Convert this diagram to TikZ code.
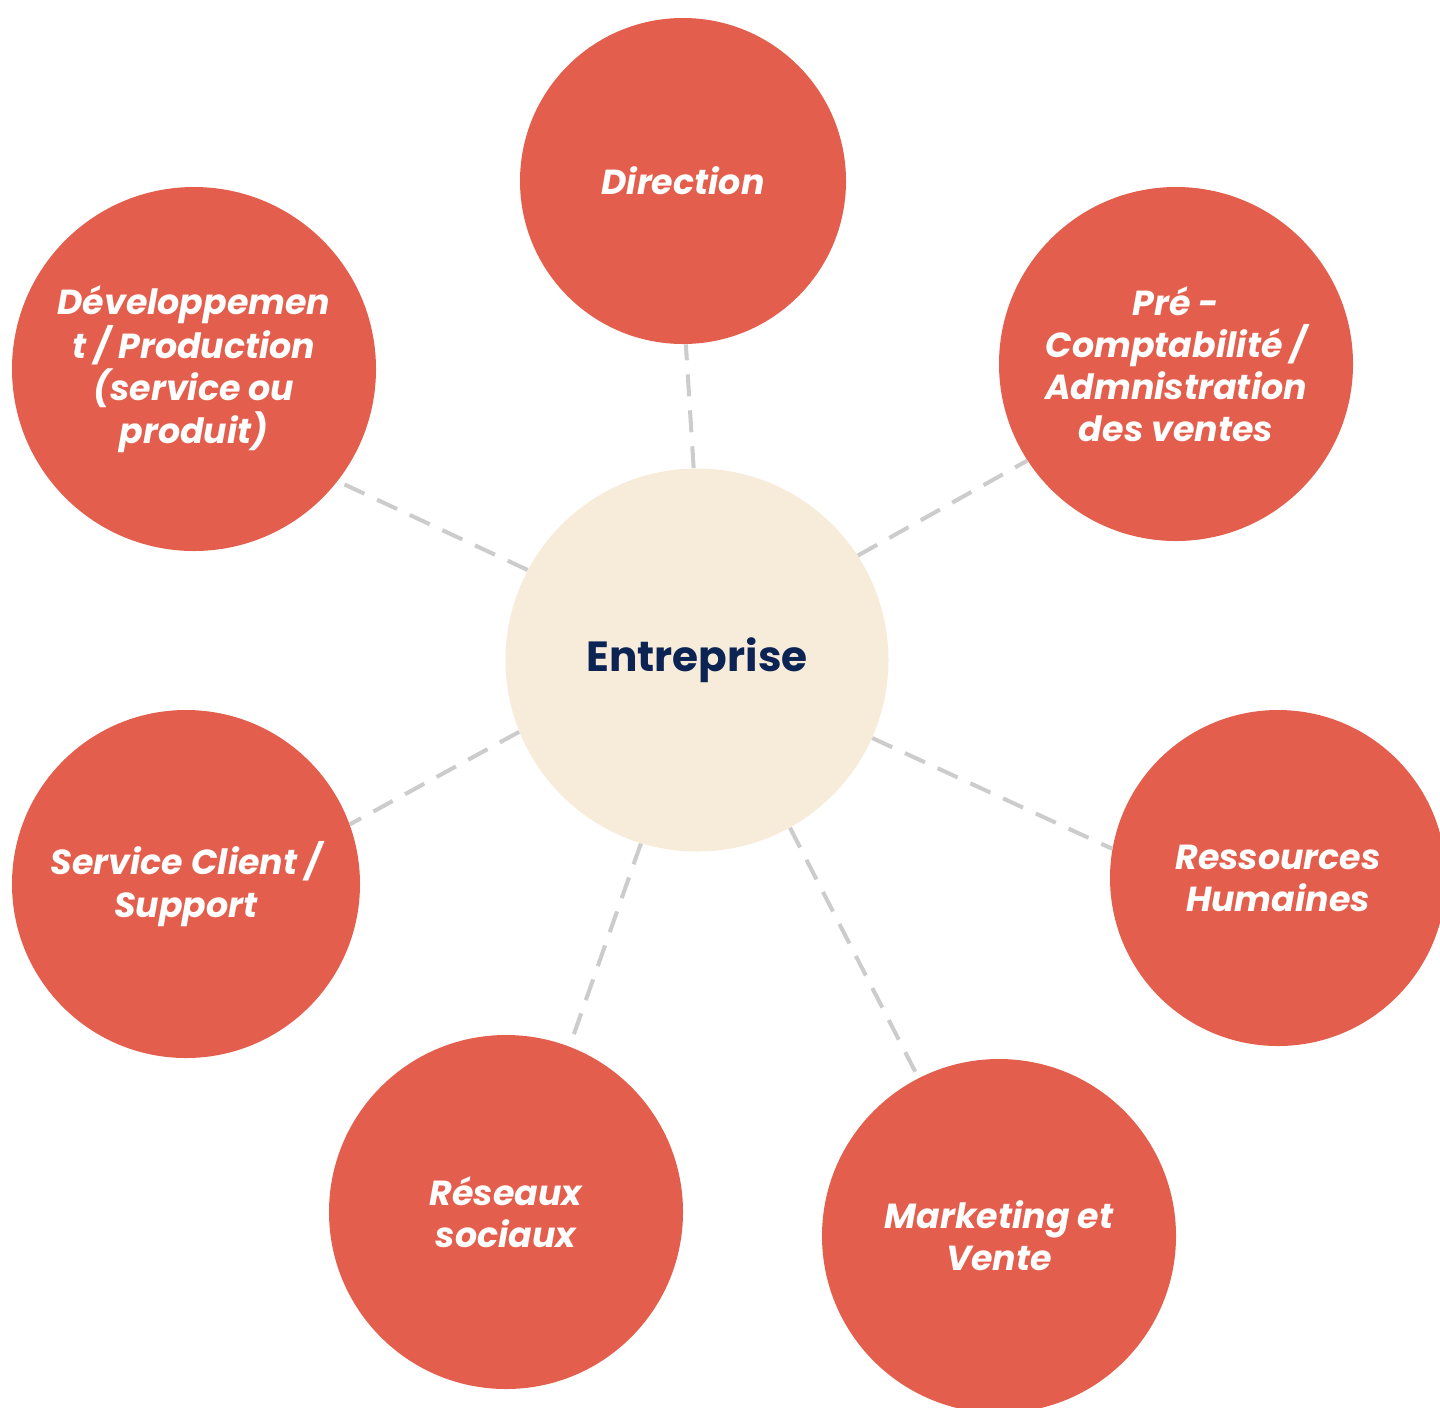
\documentclass[tikz,border=0pt]{standalone}
\usepackage{fontspec}
\setmainfont{Poppins}
\usetikzlibrary{positioning}
\definecolor{bubblered}{RGB}{227, 94, 76}
\definecolor{corebeige}{RGB}{247, 236, 218}
\definecolor{fontnavy}{RGB}{12, 36, 84}
\definecolor{linkgray}{RGB}{204, 204, 204}

\begin{document}
\begin{tikzpicture}[x=0.2mm, y=-0.2mm,
	dept/.style={circle, fill=bubblered, draw=none, inner sep=0pt, align=center, text=white,
		font=\fontsize{19.8}{24}\selectfont\bfseries\itshape},
	core/.style={circle, fill=corebeige, draw=none, inner sep=0pt, minimum size=76.6mm,
		text=fontnavy, font=\fontsize{24}{28}\selectfont\bfseries},
	linkLine/.style={draw=linkgray, line width=2.3pt, dash pattern=on 12.5pt off 8pt}
	]
	\useasboundingbox (0,0) rectangle (1440,1407);

	\node[core] (ent) at (697,660) {Entreprise};

	\node[dept, minimum size=65.2mm] (dir) at (683,181) {Direction};
	\node[dept, minimum size=70.8mm] (pre) at (1176,364) {Pré -\\Comptabilité /\\Admnistration\\des ventes};
	\node[dept, minimum size=72.8mm] (dev) at (194,369) {Développemen\\t / Production\\(service ou\\produit)};
	\node[dept, minimum size=69.6mm] (sav) at (186,884) {Service Client /\\Support};
	\node[dept, minimum size=67.2mm] (rh) at (1278,878) {Ressources\\Humaines};
	\node[dept, minimum size=70.8mm] (res) at (506,1212) {Réseaux\\sociaux};
	\node[dept, minimum size=70.8mm] (mkt) at (999,1236) {Marketing et\\Vente};

	\draw [linkLine] (ent.91.5) -- (dir.271.7);
	\draw [linkLine] (ent.33.6) -- (pre.213.9);
	\draw [linkLine] (ent.152.9) -- (dev.322.1);
	\draw [linkLine] (ent.202.3) -- (sav.20.7);
	\draw [linkLine] (ent.336.4) -- (rh.170.4);
	\draw [linkLine] (ent.253) -- (res.69.6);
	\draw [linkLine] (ent.299.7) -- (mkt.117.1);
\end{tikzpicture}
\end{document}
